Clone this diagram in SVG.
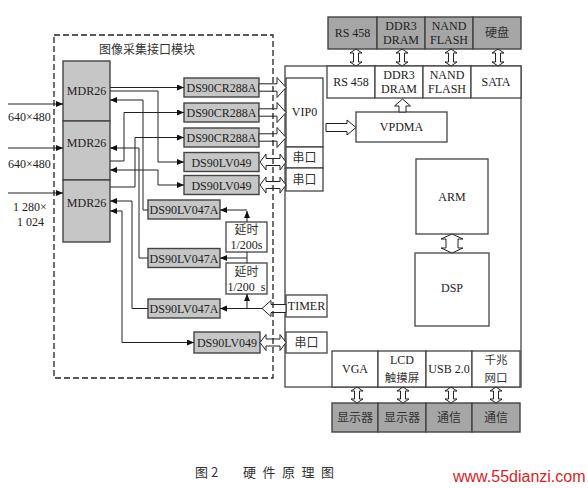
<svg xmlns="http://www.w3.org/2000/svg" width="588" height="488" viewBox="0 0 588 488">
<style>
.t{font-family:"Liberation Serif","Times New Roman",serif;font-size:12px;fill:#222;text-anchor:middle}
.c{font-family:"Noto Sans CJK SC","Liberation Sans",sans-serif;font-size:12px;fill:#333;text-anchor:middle}
.gb{fill:#c6c6c6;stroke:#444;stroke-width:1.4}
.db{fill:#a6a6a6;stroke:#444;stroke-width:1.4}
.wb{fill:#fff;stroke:#444;stroke-width:1.3}
.ln{fill:none;stroke:#222;stroke-width:1}
.ha{fill:#fff;stroke:#222;stroke-width:1}
</style>
<defs>
<marker id="ar" markerUnits="userSpaceOnUse" markerWidth="8" markerHeight="7" refX="7" refY="3" orient="auto-start-reverse"><path d="M0,0 L7,3 L0,6 Z" fill="#111"/></marker>
</defs>
<rect width="588" height="488" fill="#fff"/>

<g id="title"><text class="c" x="147" y="54">图像采集接口模块</text></g>

<g id="mdr1"><rect class="gb" x="63" y="61" width="47" height="60"/><text class="t" x="86.5" y="95">MDR26</text></g>
<g id="mdr2"><rect class="gb" x="63" y="121" width="47" height="59"/><text class="t" x="86.5" y="147">MDR26</text></g>
<g id="mdr3"><rect class="gb" x="63" y="180" width="47" height="62"/><text class="t" x="86.5" y="207">MDR26</text></g>

<g id="in-labels">
<text class="t" x="8" y="121" style="text-anchor:start">640×480</text>
<text class="t" x="8" y="168" style="text-anchor:start">640×480</text>
<text class="t" x="13" y="211" style="text-anchor:start">1 280×</text>
<text class="t" x="17" y="226" style="text-anchor:start">1 024</text>
</g>

<g id="cr1"><rect class="gb" x="184" y="78" width="75" height="19"/><text class="t" x="221.5" y="92">DS90CR288A</text></g>
<g id="cr2"><rect class="gb" x="184" y="103" width="75" height="19"/><text class="t" x="221.5" y="117">DS90CR288A</text></g>
<g id="cr3"><rect class="gb" x="184" y="128" width="75" height="19"/><text class="t" x="221.5" y="142">DS90CR288A</text></g>
<g id="lv1"><rect class="gb" x="184" y="152.5" width="75" height="19"/><text class="t" x="221.5" y="166.5">DS90LV049</text></g>
<g id="lv2"><rect class="gb" x="184" y="175.5" width="75" height="19"/><text class="t" x="221.5" y="189.5">DS90LV049</text></g>
<g id="lva1"><rect class="gb" x="148" y="200" width="72" height="19"/><text class="t" x="184" y="214">DS90LV047A</text></g>
<g id="lva2"><rect class="gb" x="148" y="248.5" width="72" height="19"/><text class="t" x="184" y="262.5">DS90LV047A</text></g>
<g id="lva3"><rect class="gb" x="148" y="299" width="72" height="19"/><text class="t" x="184" y="313">DS90LV047A</text></g>
<g id="lv3"><rect class="gb" x="194" y="332" width="66" height="21"/><text class="t" x="227" y="347">DS90LV049</text></g>

<g id="delay1"><rect class="wb" x="226" y="222" width="41" height="30"/><text class="c" x="246.5" y="234">延时</text><text class="t" x="246.5" y="249">1/200s</text></g>
<g id="delay2"><rect class="wb" x="226" y="263" width="41" height="31"/><text class="c" x="246.5" y="276">延时</text><text class="t" x="246.5" y="291" xml:space="preserve">1/200  s</text></g>

<g id="soc"><rect class="wb" x="285" y="66" width="236" height="321"/></g>

<g id="ext-top">
<rect class="db" x="328" y="17" width="49" height="32"/><text class="t" x="352.5" y="37">RS 458</text>
<rect class="db" x="377" y="17" width="48" height="32"/><text class="t" x="401" y="30">DDR3</text><text class="t" x="401" y="44">DRAM</text>
<rect class="db" x="425" y="17" width="48" height="32"/><text class="t" x="449" y="30">NAND</text><text class="t" x="449" y="44">FLASH</text>
<rect class="db" x="473" y="17" width="48" height="32"/><text class="c" x="497" y="37">硬盘</text>
</g>
<g id="int-top">
<rect class="wb" x="327" y="66" width="48" height="32"/><text class="t" x="351" y="86">RS 458</text>
<rect class="wb" x="375" y="66" width="48" height="32"/><text class="t" x="399" y="79">DDR3</text><text class="t" x="399" y="93">DRAM</text>
<rect class="wb" x="423" y="66" width="48" height="32"/><text class="t" x="447" y="79">NAND</text><text class="t" x="447" y="93">FLASH</text>
<rect class="wb" x="471" y="66" width="50" height="32"/><text class="t" x="496" y="86">SATA</text>
</g>
<g id="vip0"><rect class="wb" x="286" y="78" width="37" height="69"/><text class="t" x="304.5" y="116">VIP0</text></g>
<g id="uart1"><rect class="wb" x="286" y="147" width="37" height="21"/><text class="c" x="304.5" y="162">串口</text></g>
<g id="uart2"><rect class="wb" x="286" y="168" width="37" height="23"/><text class="c" x="304.5" y="184">串口</text></g>
<g id="vpdma"><rect class="wb" x="356" y="112" width="91" height="30"/><text class="t" x="401.5" y="131">VPDMA</text></g>
<g id="arm"><rect class="wb" x="416" y="159" width="72" height="75"/><text class="t" x="452" y="201">ARM</text></g>
<g id="dsp"><rect class="wb" x="415" y="253" width="74" height="73"/><text class="t" x="452" y="292">DSP</text></g>
<g id="timer"><rect class="wb" x="286" y="295" width="41" height="22"/><text class="t" x="306.5" y="310">TIMER</text></g>
<g id="uart3"><rect class="wb" x="286" y="332" width="41" height="21"/><text class="c" x="306.5" y="347">串口</text></g>
<g id="int-bottom">
<rect class="wb" x="332" y="351" width="46" height="36"/><text class="t" x="355" y="373">VGA</text>
<rect class="wb" x="378" y="351" width="48" height="36"/><text class="t" x="402" y="364">LCD</text><text class="c" x="402" y="382" style="font-size:11.5px">触摸屏</text>
<rect class="wb" x="426" y="351" width="46" height="36"/><text class="t" x="449" y="373">USB 2.0</text>
<rect class="wb" x="472" y="351" width="48" height="36"/><text class="c" x="496" y="364" style="font-size:11.5px">千兆</text><text class="c" x="496" y="382" style="font-size:11.5px">网口</text>
</g>
<g id="ext-bottom">
<rect class="db" x="332" y="403" width="46" height="29"/><text class="c" x="355" y="422">显示器</text>
<rect class="db" x="378" y="403" width="48" height="29"/><text class="c" x="402" y="422">显示器</text>
<rect class="db" x="426" y="403" width="46" height="29"/><text class="c" x="449" y="422">通信</text>
<rect class="db" x="472" y="403" width="48" height="29"/><text class="c" x="496" y="422">通信</text>
</g>

<g id="connectors">
<path class="ln" d="M8,104 H63" marker-end="url(#ar)"/>
<path class="ln" d="M8,148 H63" marker-end="url(#ar)"/>
<path class="ln" d="M8,193 H63" marker-end="url(#ar)"/>
<path class="ln" d="M110,87.5 H184" marker-end="url(#ar)"/>
<path class="ln" d="M110,91 H158 V162 H184" marker-end="url(#ar)"/>
<path class="ln" d="M148,210 H143 V100 H110" marker-end="url(#ar)"/>
<path class="ln" d="M110,161 H124 V112.5 H184" marker-end="url(#ar)"/>
<path class="ln" d="M148,258 H139 V148 H110" marker-end="url(#ar)"/>
<path class="ln" d="M110,187 H135 V137.5 H184" marker-end="url(#ar)"/>
<path class="ln" d="M110,170 H158 V185 H184" marker-start="url(#ar)" marker-end="url(#ar)"/>
<path class="ln" d="M148,308.5 H132 V201 H110" marker-end="url(#ar)"/>
<path class="ln" d="M110,211 H122 V342.5 H194" marker-start="url(#ar)" marker-end="url(#ar)"/>
<path class="ln" d="M262,308.5 H220" marker-end="url(#ar)"/>
<path class="ln" d="M247,308.5 V294" marker-end="url(#ar)"/>
<path class="ln" d="M247,263 V252"/>
<path class="ln" d="M247,258 H220" marker-end="url(#ar)"/>
<path class="ln" d="M247,222 V211" marker-end="url(#ar)"/>
<path class="ln" d="M247,210 H220" marker-end="url(#ar)"/>
<polygon class="ha" points="259,83.8 277,83.8 277,77.5 286,87.5 277,97.5 277,91.2 259,91.2"/>
<polygon class="ha" points="259,108.8 277,108.8 277,102.5 286,112.5 277,122.5 277,116.2 259,116.2"/>
<polygon class="ha" points="259,133.8 277,133.8 277,127.5 286,137.5 277,147.5 277,141.2 259,141.2"/>
<polygon class="ha" points="260,162 266,154 266,158.5 280,158.5 280,154 286,162 280,170 280,165.5 266,165.5 266,170"/>
<polygon class="ha" points="260,185 266,177 266,181.5 280,181.5 280,177 286,185 280,193 280,188.5 266,188.5 266,193"/>
<polygon class="ha" points="260,342.5 266,334.5 266,339 280,339 280,334.5 286,342.5 280,350.5 280,346 266,346 266,350.5"/>
<polygon class="ha" points="262,308.5 271,300.5 271,304.5 286,304.5 286,312.5 271,312.5 271,316.5"/>
<polygon class="ha" points="326,123.5 347,123.5 347,120 356,127.5 347,135 347,131.5 326,131.5"/>
<polygon class="ha" points="402.5,99 410.5,106 406,106 406,112 399,112 399,106 394.5,106"/>
<polygon class="ha" points="452,234 463,239 458,239 458,248 463,248 452,253 441,248 446,248 446,239 441,239"/>
<polygon class="ha" points="356,49 362,53 358.5,53 358.5,62 362,62 356,66 350,62 353.5,62 353.5,53 350,53"/>
<polygon class="ha" points="402,49 408,53 404.5,53 404.5,62 408,62 402,66 396,62 399.5,62 399.5,53 396,53"/>
<polygon class="ha" points="451,49 457,53 453.5,53 453.5,62 457,62 451,66 445,62 448.5,62 448.5,53 445,53"/>
<polygon class="ha" points="498,49 504,53 500.5,53 500.5,62 504,62 498,66 492,62 495.5,62 495.5,53 492,53"/>
<polygon class="ha" points="357,387 363,391 359.5,391 359.5,399 363,399 357,403 351,399 354.5,399 354.5,391 351,391"/>
<polygon class="ha" points="403,387 409,391 405.5,391 405.5,399 409,399 403,403 397,399 400.5,399 400.5,391 397,391"/>
<polygon class="ha" points="451,387 457,391 453.5,391 453.5,399 457,399 451,403 445,399 448.5,399 448.5,391 445,391"/>
<polygon class="ha" points="496,387 502,391 498.5,391 498.5,399 502,399 496,403 490,399 493.5,399 493.5,391 490,391"/>
</g>

<g id="module-boundary"><rect x="54" y="35" width="219" height="343" fill="none" stroke="#222" stroke-width="1.3" stroke-dasharray="6,3"/></g>

<g id="caption">
<text x="195" y="477" style="font-family:'Noto Sans CJK SC',sans-serif;font-size:13px;fill:#333;letter-spacing:3px">图2</text>
<text x="243" y="477" style="font-family:'Noto Sans CJK SC',sans-serif;font-size:13px;fill:#333;letter-spacing:6.5px">硬件原理图</text>
<text x="453" y="482" style="font-family:'Liberation Sans',Arial,sans-serif;font-size:16px;fill:#d9231f">www.55dianzi.com</text>
</g>
</svg>
